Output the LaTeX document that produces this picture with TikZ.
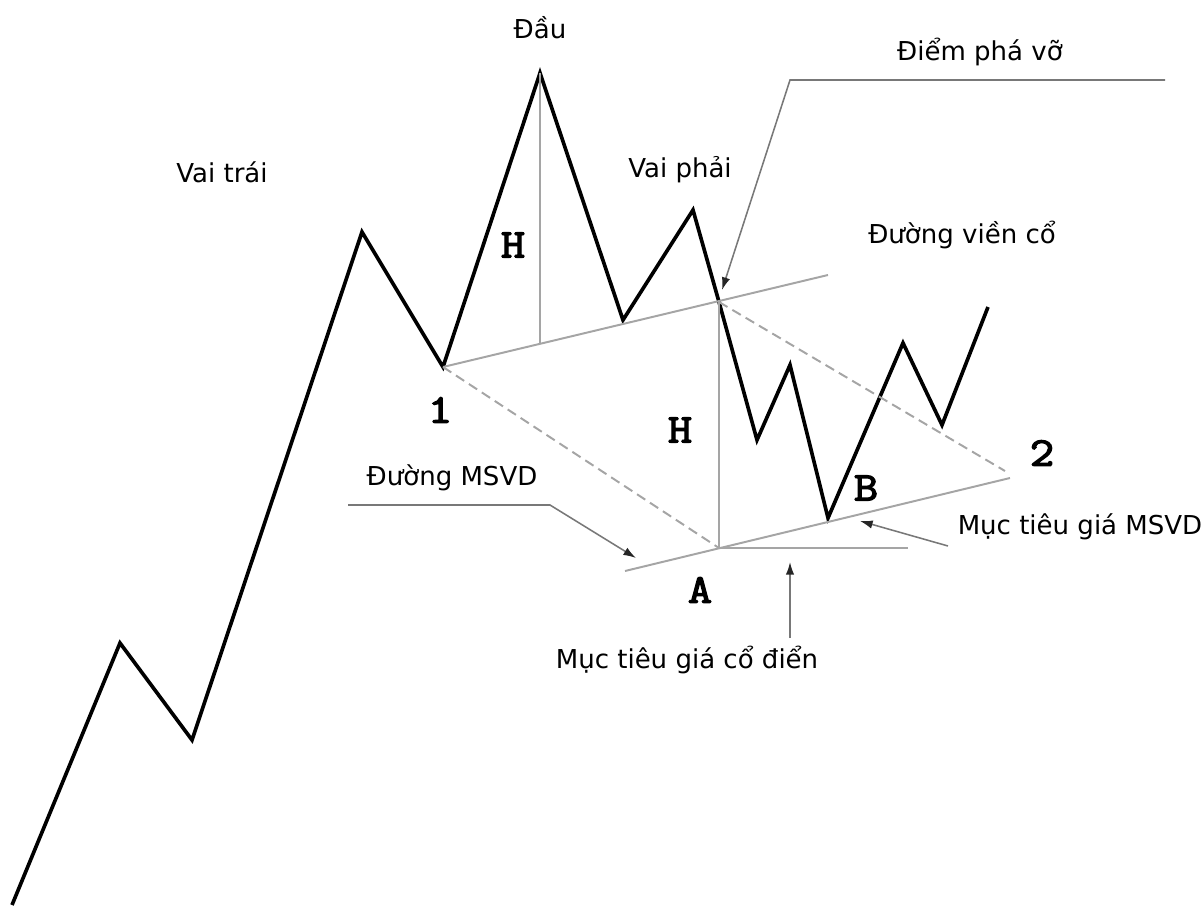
\documentclass[tikz,border=0pt]{standalone}
\usepackage{fontspec}
\setmainfont{DejaVu Sans}
\newfontfamily\letterfont{Latin Modern Mono}[FakeBold=3]
\usetikzlibrary{arrows.meta,positioning}
\definecolor{neckgray}{RGB}{165,165,165}
\definecolor{callgray}{RGB}{120,120,120}

\begin{document}
\begin{tikzpicture}[x=0.025cm,y=-0.025cm,
  price/.style={line width=2.6pt,line join=miter},
  guide/.style={draw=neckgray,line width=1.4pt},
  proj/.style={guide,dash pattern=on 7pt off 4pt},
  callout/.style={draw=callgray,line width=1.1pt,-{Latex[length=9pt,width=6pt,color=black!85]}},
  lbl/.style={font=\fontsize{18.5}{22}\selectfont,inner sep=1pt},
  letter/.style={font=\letterfont\fontsize{29}{30}\selectfont,inner sep=1pt,xscale=1.15}]
\useasboundingbox (0,0) rectangle (1203,907);
\coordinate (start) at (12,905);
\coordinate (lowa) at (120,643);
\coordinate (lowb) at (192,740);
\coordinate (leftshoulder) at (362,232);
\coordinate (one) at (443,367);
\coordinate (head) at (540,73);
\coordinate (headbase) at (540,344);
\coordinate (trough) at (623,320);
\coordinate (rightshoulder) at (693,210);
\coordinate (breakout) at (719,302);
\coordinate (dropa) at (757,440);
\coordinate (dropb) at (790,365);
\coordinate (bottom) at (828,518);
\coordinate (risea) at (903,343);
\coordinate (riseb) at (942,425);
\coordinate (last) at (988,307);
\coordinate (neckend) at (828,275);
\coordinate (pointa) at (719,548);
\coordinate (two) at (1005,471);
\coordinate (targetstart) at (625,571);
\coordinate (targetend) at (1010,478);
\coordinate (classicend) at (908,548);
\draw[price] (start)--(lowa)--(lowb)--(leftshoulder)--(one)--(head)--(trough)--(rightshoulder)
  --(breakout)--(dropa)--(dropb)--(bottom)--(risea)--(riseb)--(last);
\draw[guide] (one)--(neckend);
\draw[guide] (head)--(headbase);
\draw[guide] (breakout)--(pointa);
\draw[guide] (targetstart)--(targetend);
\draw[guide] (pointa)--(classicend);
\draw[proj] (one)--(pointa);
\draw[proj] (breakout)--(two);
\node[lbl] (headlbl) at (540,28) {Đầu};
\node[lbl] (leftlbl) at (222,172) {Vai trái};
\node[lbl] (rightlbl) at (680,170) {Vai phải};
\node[lbl] (breaklbl) at (980,52) {Điểm phá vỡ};
\node[lbl] (necklbl) at (962,235) {Đường viền cổ};
\node[lbl] (msvdlbl) at (452,478) {Đường MSVD};
\node[lbl] (msvdtgt) at (1080,527) {Mục tiêu giá MSVD};
\node[lbl] (classiclbl) at (687,660) {Mục tiêu giá cổ điển};
\node[letter] (hupper) at (513,245) {H};
\node[letter] (hlower) at (680,430) {H};
\node[letter] (onelbl) at (440,410) {1};
\node[letter] (twolbl) at (1042,453) {2};
\node[letter] (albl) at (700,590) {A};
\node[letter] (blbl) at (866,488) {B};
\coordinate (breakfrom) at (1165,80);
\coordinate (breakbend) at (790,80);
\coordinate (breaktip) at (722,290);
\coordinate (msvdfrom) at (348,505);
\coordinate (msvdbend) at (550,505);
\coordinate (msvdtip) at (636,558);
\coordinate (tgtfrom) at (948,546);
\coordinate (tgttip) at (860,521);
\coordinate (classicfrom) at (790,638);
\coordinate (classictip) at (790,562);
\draw[callout] (breakfrom)--(breakbend)--(breaktip);
\draw[callout] (msvdfrom)--(msvdbend)--(msvdtip);
\draw[callout] (tgtfrom)--(tgttip);
\draw[callout] (classicfrom)--(classictip);
\end{tikzpicture}
\end{document}
